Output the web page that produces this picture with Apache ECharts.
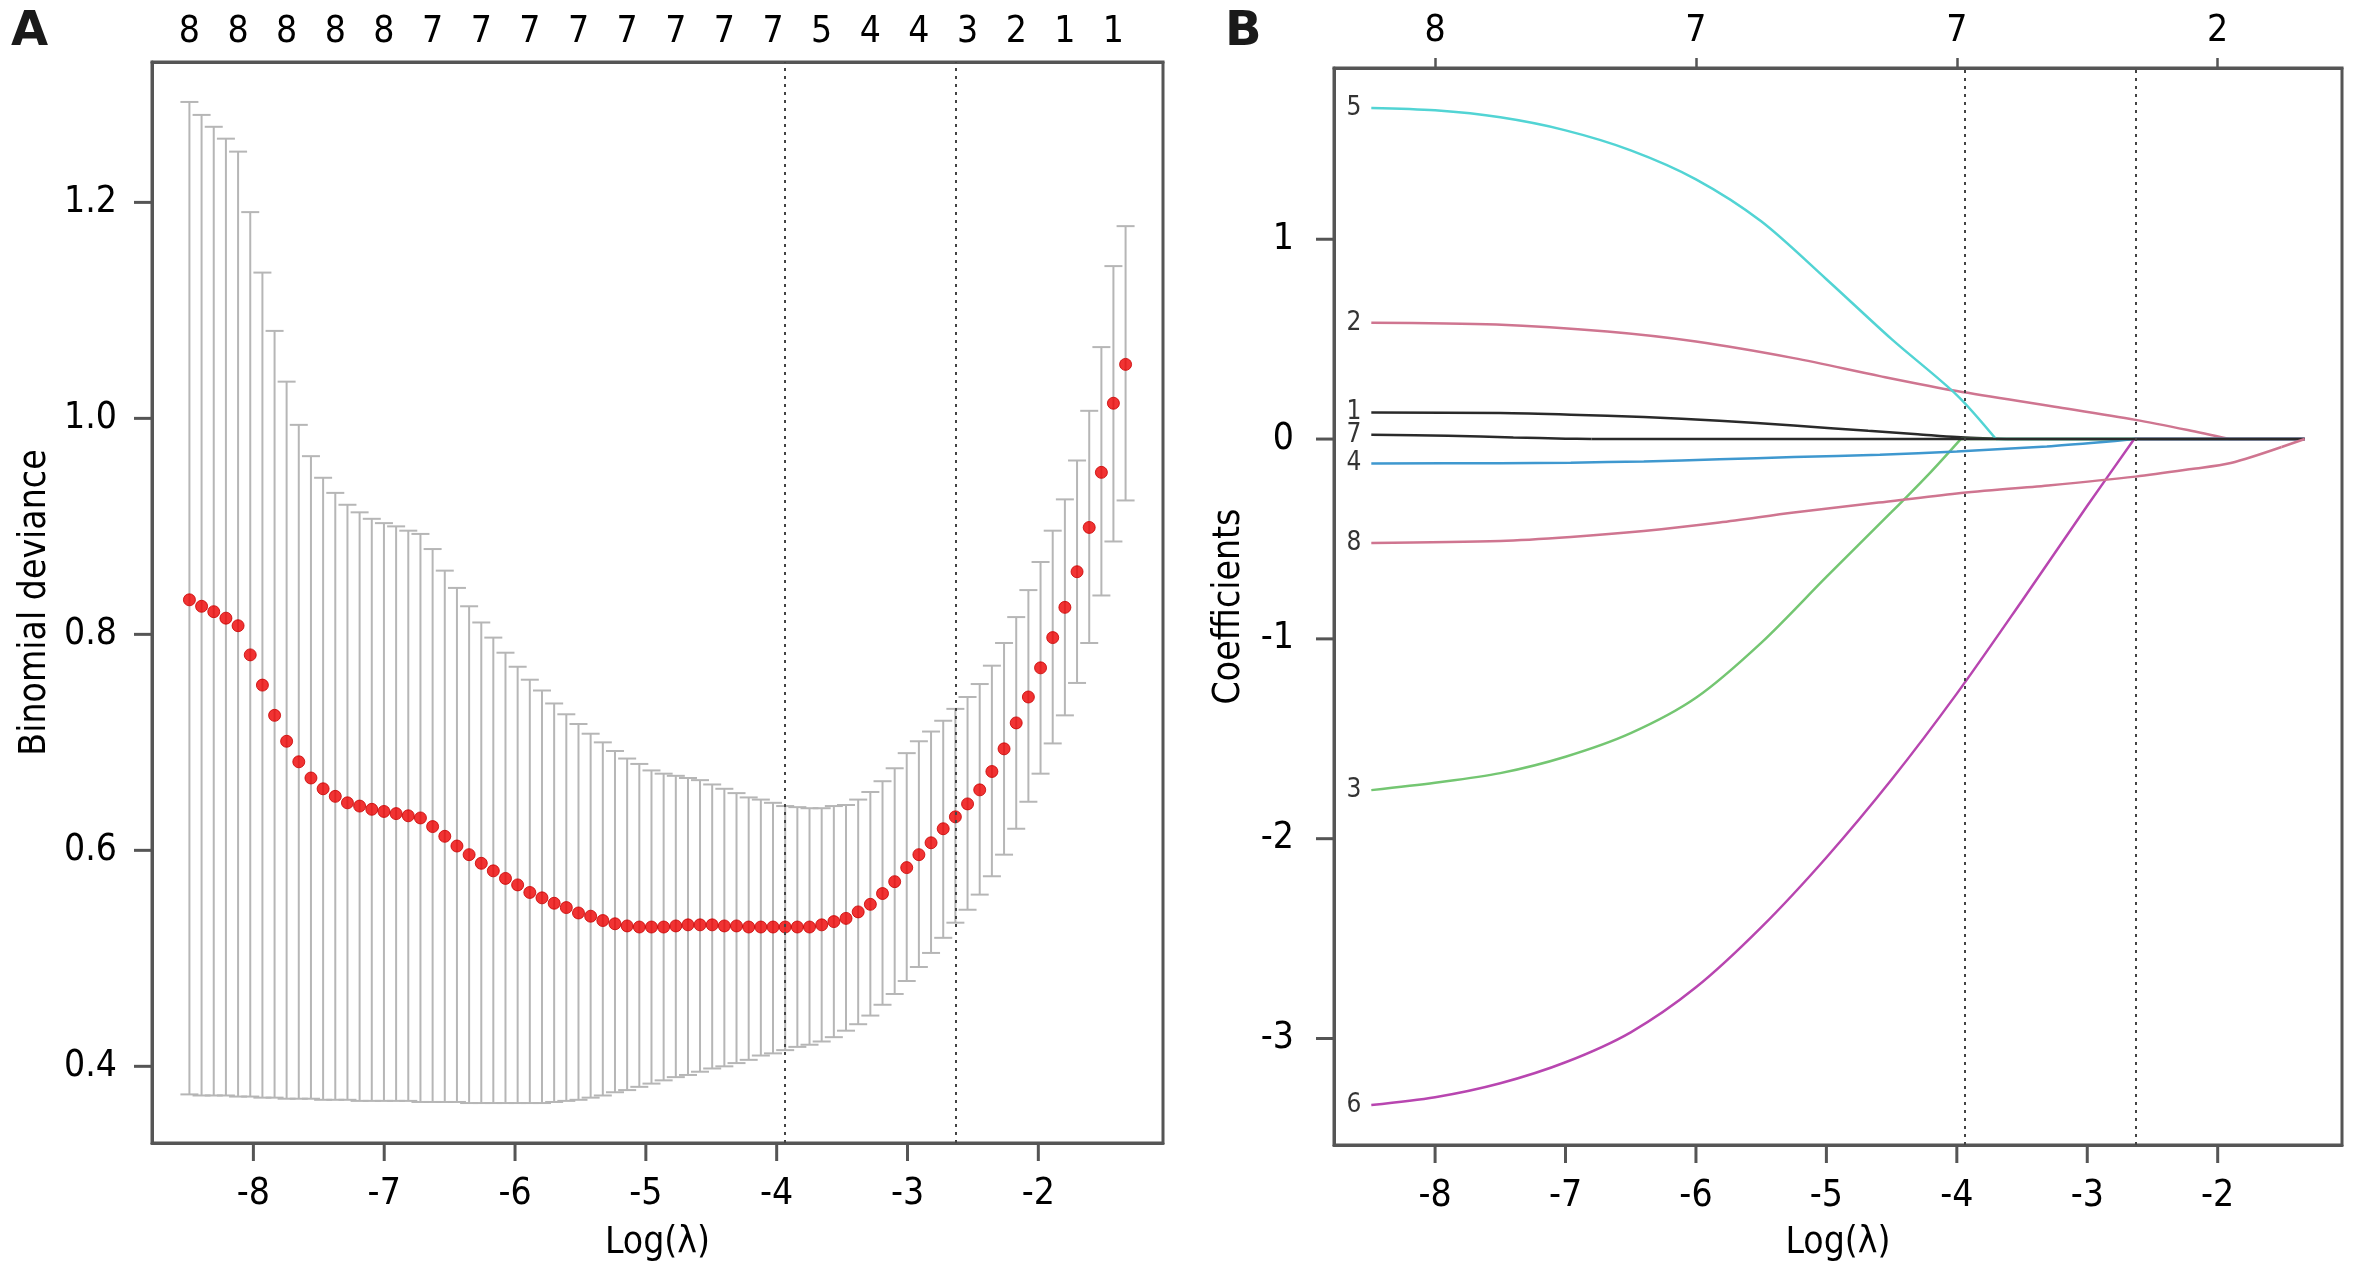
<!DOCTYPE html>
<html>
<head>
<meta charset="utf-8">
<script src="https://cdn.jsdelivr.net/npm/echarts@6/dist/echarts.min.js"></script>
<style>
html,body{margin:0;padding:0;background:#fff;}
#chart{width:2362px;height:1276px;}
</style>
</head>
<body>
<div id="chart"></div>
<script>
// ---------- Panel A: cross-validated binomial deviance ----------
const lambdaLog = [-8.489,-8.396,-8.303,-8.210,-8.117,-8.024,-7.931,-7.838,-7.746,-7.653,
  -7.560,-7.467,-7.374,-7.281,-7.188,-7.095,-7.002,-6.909,-6.816,-6.723,
  -6.630,-6.537,-6.444,-6.351,-6.258,-6.166,-6.073,-5.980,-5.887,-5.794,
  -5.701,-5.608,-5.515,-5.422,-5.329,-5.236,-5.143,-5.050,-4.957,-4.864,
  -4.771,-4.678,-4.586,-4.493,-4.400,-4.307,-4.214,-4.121,-4.028,-3.935,
  -3.842,-3.749,-3.656,-3.563,-3.470,-3.377,-3.284,-3.191,-3.098,-3.006,
  -2.913,-2.820,-2.727,-2.634,-2.541,-2.448,-2.355,-2.262,-2.169,-2.076,
  -1.983,-1.890,-1.797,-1.704,-1.611,-1.518,-1.426,-1.333];
const cvMean = [0.832,0.826,0.821,0.815,0.808,0.781,0.753,0.725,0.701,0.682,
  0.667,0.657,0.650,0.644,0.641,0.638,0.636,0.634,0.632,0.630,
  0.622,0.613,0.604,0.596,0.588,0.581,0.574,0.568,0.561,0.556,
  0.551,0.547,0.542,0.539,0.535,0.532,0.530,0.529,0.529,0.529,
  0.530,0.531,0.531,0.531,0.530,0.530,0.529,0.529,0.529,0.529,
  0.529,0.529,0.531,0.534,0.537,0.543,0.550,0.560,0.571,0.584,
  0.596,0.607,0.620,0.631,0.643,0.656,0.673,0.694,0.718,0.742,
  0.769,0.797,0.825,0.858,0.899,0.950,1.014,1.050];
const cvUpper = [1.293,1.281,1.270,1.259,1.247,1.191,1.135,1.081,1.034,0.994,
  0.965,0.945,0.931,0.920,0.913,0.907,0.903,0.900,0.896,0.893,
  0.879,0.859,0.843,0.826,0.811,0.797,0.783,0.770,0.758,0.748,
  0.736,0.726,0.717,0.708,0.700,0.692,0.685,0.680,0.674,0.671,
  0.669,0.667,0.665,0.661,0.657,0.653,0.649,0.647,0.644,0.641,
  0.640,0.639,0.639,0.641,0.642,0.647,0.654,0.664,0.676,0.690,
  0.701,0.710,0.720,0.731,0.742,0.754,0.771,0.792,0.816,0.841,
  0.867,0.896,0.925,0.961,1.007,1.066,1.141,1.178];
const cvLower = [0.374,0.373,0.373,0.373,0.372,0.372,0.371,0.371,0.370,0.370,
  0.370,0.369,0.369,0.369,0.368,0.368,0.368,0.368,0.368,0.367,
  0.367,0.367,0.367,0.366,0.366,0.366,0.366,0.366,0.366,0.366,
  0.367,0.368,0.369,0.371,0.373,0.376,0.378,0.381,0.384,0.387,
  0.390,0.392,0.395,0.398,0.400,0.403,0.406,0.410,0.412,0.415,
  0.418,0.420,0.423,0.427,0.433,0.439,0.447,0.457,0.467,0.479,
  0.492,0.505,0.519,0.533,0.545,0.559,0.576,0.596,0.620,0.645,
  0.671,0.699,0.725,0.755,0.792,0.836,0.886,0.924];
const nzeroPos = [-8.489,-8.117,-7.746,-7.374,-7.002,-6.630,-6.258,-5.887,-5.515,-5.143,
  -4.771,-4.400,-4.028,-3.656,-3.284,-2.913,-2.541,-2.169,-1.797,-1.426];
const nzeroLabels = [8,8,8,8,8,7,7,7,7,7,7,7,7,5,4,4,3,2,1,1];
const lambdaMinLog = -3.935;
const lambda1seLog = -2.634;
const xTicks = [-8,-7,-6,-5,-4,-3,-2];
const yTicksA = [0.4,0.6,0.8,1.0,1.2];

// ---------- Panel B: coefficient paths (last point of each = end of the zero stretch) ----------
const yTicksB = [-3,-2,-1,0,1];
const topTicksB = [-8,-6,-4,-2];
const topLabelsB = [8,7,7,2];
const coef1 = [[-8.489,0.133],[-7.5,0.130],[-6.96,0.122],[-6.4,0.110],[-5.82,0.092],[-5.25,0.068],[-4.68,0.041],[-4.3,0.024],[-4.0,0.010],[-3.62,0],[-1.333,0]];
const coef2 = [[-8.489,0.582],[-7.53,0.573],[-6.68,0.538],[-6.0,0.488],[-5.25,0.405],[-4.59,0.315],[-4.0,0.240],[-3.25,0.162],[-2.63,0.096],[-2.23,0.045],[-1.91,0],[-1.333,0]];
const coef3 = [[-8.489,-1.757],[-8.0,-1.72],[-7.5,-1.672],[-7.0,-1.59],[-6.5,-1.472],[-6.0,-1.295],[-5.5,-1.02],[-5.0,-0.69],[-4.5,-0.365],[-4.2,-0.165],[-3.97,0],[-1.333,0]];
const coef4 = [[-8.489,-0.122],[-7.5,-0.121],[-6.96,-0.118],[-6.4,-0.112],[-5.82,-0.101],[-5.25,-0.090],[-4.59,-0.078],[-4.0,-0.062],[-3.31,-0.037],[-2.9,-0.016],[-2.64,0],[-1.333,0]];
const coef5 = [[-8.489,1.657],[-8.0,1.645],[-7.5,1.61],[-7.0,1.545],[-6.5,1.445],[-6.0,1.30],[-5.5,1.09],[-5.0,0.80],[-4.5,0.50],[-4.0,0.22],[-3.70,0],[-1.333,0]];
const coef6 = [[-8.489,-3.333],[-8.0,-3.294],[-7.5,-3.224],[-7.0,-3.119],[-6.5,-2.969],[-6.0,-2.744],[-5.5,-2.444],[-5.0,-2.094],[-4.5,-1.704],[-4.0,-1.274],[-3.5,-0.809],[-3.0,-0.334],[-2.64,0],[-1.333,0]];
const coef7 = [[-8.489,0.021],[-7.9,0.016],[-7.4,0.008],[-7.0,0.002],[-6.8,0],[-1.333,0]];
const coef8 = [[-8.489,-0.520],[-7.5,-0.510],[-6.96,-0.490],[-6.4,-0.460],[-5.82,-0.418],[-5.25,-0.368],[-4.6,-0.318],[-4.0,-0.272],[-3.3,-0.232],[-2.63,-0.188],[-2.2,-0.150],[-1.9,-0.120],[-1.51,-0.040],[-1.333,0]];
const coefNames = ['1','2','3','4','5','6','7','8'];

// ---------- styling ----------
const FONT = '"DejaVu Sans Condensed", "DejaVu Sans", sans-serif';
const AXIS_COLOR = '#555';
const coefColors = ['#2a2a2a','#cf7590','#74c672','#3f98cf','#52d4d4','#b846b0','#2a2a2a','#cf7590'];
const X_MIN = -8.775, X_MAX = -1.047;
const Y_RANGE_A = [0.329, 1.330];
const Y_RANGE_B = [-3.533, 1.857];

const chart = echarts.init(document.getElementById('chart'), null, {renderer: 'canvas'});

function lookup(pos, labels) {
  return function (v) {
    for (let i = 0; i < pos.length; i++) if (Math.abs(pos[i] - v) < 1e-6) return String(labels[i]);
    return '';
  };
}
const tickLabelStyle = {fontSize: 37, fontFamily: FONT, color: '#000'};
const nameStyle = {fontSize: 37, fontFamily: FONT, color: '#000'};
const tickStyle = {color: AXIS_COLOR, width: 2.5};

function tickAxis(gridIndex, position, range, ticks, tickLen, margin, fmt) {
  return {
    gridIndex, type: 'value', position, min: range[0], max: range[1],
    axisLine: {show: true, onZero: false, lineStyle: {color: AXIS_COLOR, width: 3}},
    splitLine: {show: false},
    axisTick: tickLen > 0 ? {show: true, inside: false, length: tickLen, customValues: ticks, lineStyle: tickStyle} : {show: false},
    axisLabel: Object.assign({show: true, customValues: ticks, margin, formatter: fmt}, tickLabelStyle)
  };
}
function nameAxis(gridIndex, position, range, name, gap) {
  return {
    gridIndex, type: 'value', position, min: range[0], max: range[1],
    axisLine: {show: false, onZero: false}, splitLine: {show: false},
    axisTick: {show: false}, axisLabel: {show: false},
    name, nameLocation: 'middle', nameGap: gap, nameTextStyle: nameStyle
  };
}

const coefs = [coef1, coef2, coef3, coef4, coef5, coef6, coef7, coef8];

const series = [];
// error bars (grid A)
series.push({
  type: 'custom', xAxisIndex: 0, yAxisIndex: 0, z: 2,
  data: lambdaLog.map((x, i) => [x, cvLower[i], cvUpper[i]]),
  encode: {x: 0, y: [1, 2]},
  renderItem: function (params, api) {
    const x = api.value(0);
    const pLo = api.coord([x, api.value(1)]);
    const pHi = api.coord([x, api.value(2)]);
    const w = 9;
    const st = {stroke: '#b6b6b6', lineWidth: 2};
    return {type: 'group', children: [
      {type: 'line', shape: {x1: pLo[0], y1: pLo[1], x2: pHi[0], y2: pHi[1]}, style: st},
      {type: 'line', shape: {x1: pHi[0] - w, y1: pHi[1], x2: pHi[0] + w, y2: pHi[1]}, style: st},
      {type: 'line', shape: {x1: pLo[0] - w, y1: pLo[1], x2: pLo[0] + w, y2: pLo[1]}, style: st}
    ]};
  }
});
// mean points
series.push({
  type: 'scatter', xAxisIndex: 0, yAxisIndex: 0, z: 3,
  data: lambdaLog.map((x, i) => [x, cvMean[i]]),
  symbol: 'circle', symbolSize: 12,
  itemStyle: {color: '#ee0000', borderColor: '#c80000', borderWidth: 1},
  markLine: {
    silent: true, symbol: 'none', label: {show: false}, z: 5,
    lineStyle: {color: '#444', width: 2, type: [3, 5]},
    data: [{xAxis: lambdaMinLog}, {xAxis: lambda1seLog}]
  }
});
// coefficient paths: smooth active part + straight zero stretch
coefs.forEach((c, k) => {
  series.push({
    type: 'line', xAxisIndex: 2, yAxisIndex: 2, data: c.slice(0, -1), z: 2 + k * 0.01,
    smooth: 0.3, showSymbol: false, symbol: 'none',
    lineStyle: {color: coefColors[k], width: 2.5}
  });
});
coefs.forEach((c, k) => {
  series.push({
    type: 'line', xAxisIndex: 2, yAxisIndex: 2, data: c.slice(-2), z: 2 + k * 0.01,
    smooth: false, showSymbol: false, symbol: 'none',
    lineStyle: {color: coefColors[k], width: 2.5}
  });
});
// curve labels + cut-off lines (grid B)
series.push({
  type: 'scatter', xAxisIndex: 2, yAxisIndex: 2, z: 4, symbolSize: 0,
  data: coefs.map((c, k) => ({name: coefNames[k], value: c[0]})),
  label: {show: true, position: 'left', distance: 10, formatter: '{b}', fontSize: 26, fontFamily: FONT, color: '#000'},
  markLine: {
    silent: true, symbol: 'none', label: {show: false}, z: 5,
    lineStyle: {color: '#444', width: 2, type: [3, 5]},
    data: [{xAxis: lambdaMinLog}, {xAxis: lambda1seLog}]
  }
});

const option = {
  animation: false,
  backgroundColor: '#ffffff',
  title: [
    {text: 'A', left: 6, top: 4, textStyle: {fontSize: 48, fontWeight: 'bold', fontFamily: '"DejaVu Sans", sans-serif', color: '#1a1a1a'}},
    {text: 'B', left: 1220, top: 4, textStyle: {fontSize: 48, fontWeight: 'bold', fontFamily: '"DejaVu Sans", sans-serif', color: '#1a1a1a'}}
  ],
  grid: [
    {left: 152, top: 62, width: 1011, height: 1081, show: true, borderColor: AXIS_COLOR, borderWidth: 3, containLabel: false},
    {left: 1334, top: 68, width: 1008, height: 1077, show: true, borderColor: AXIS_COLOR, borderWidth: 3, containLabel: false}
  ],
  xAxis: [
    tickAxis(0, 'bottom', [X_MIN, X_MAX], xTicks, 0, 33, v => String(v)),
    tickAxis(0, 'top', [X_MIN, X_MAX], nzeroPos, 0, 11, lookup(nzeroPos, nzeroLabels)),
    tickAxis(1, 'bottom', [X_MIN, X_MAX], xTicks, 0, 33, v => String(v)),
    tickAxis(1, 'top', [X_MIN, X_MAX], topTicksB, 10, 18, lookup(topTicksB, topLabelsB)),
    nameAxis(0, 'bottom', [X_MIN, X_MAX], 'Log(λ)', 82),
    nameAxis(1, 'bottom', [X_MIN, X_MAX], 'Log(λ)', 80)
  ],
  yAxis: [
    tickAxis(0, 'left', Y_RANGE_A, yTicksA, 0, 35, v => v.toFixed(1)),
    nameAxis(0, 'left', Y_RANGE_A, 'Binomial deviance', 98),
    tickAxis(1, 'left', Y_RANGE_B, yTicksB, 0, 40, v => String(v)),
    nameAxis(1, 'left', Y_RANGE_B, 'Coefficients', 86)
  ],
  series: series
};
chart.setOption(option);

// Outward tick marks on bottom / left edges, positioned through the chart's own axis scales.
(function addEdgeTicks() {
  const g = [];
  const LEN = 18;
  function add(seriesIndex, values, orient, edge) {
    values.forEach(v => {
      const p = chart.convertToPixel({seriesIndex: seriesIndex}, orient === 'x' ? [v, edge] : [edge, v]);
      if (!p || isNaN(p[0]) || isNaN(p[1])) return;
      g.push({
        type: 'line', silent: true, z: 100, zlevel: 1,
        shape: orient === 'x'
          ? {x1: p[0], y1: p[1], x2: p[0], y2: p[1] + LEN}
          : {x1: p[0], y1: p[1], x2: p[0] - LEN, y2: p[1]},
        style: {stroke: AXIS_COLOR, lineWidth: 3}
      });
    });
  }
  add(0, xTicks, 'x', Y_RANGE_A[0]);
  add(0, yTicksA, 'y', X_MIN);
  add(2, xTicks, 'x', Y_RANGE_B[0]);
  add(2, yTicksB, 'y', X_MIN);
  chart.setOption({graphic: g});
})();
</script>
</body>
</html>
